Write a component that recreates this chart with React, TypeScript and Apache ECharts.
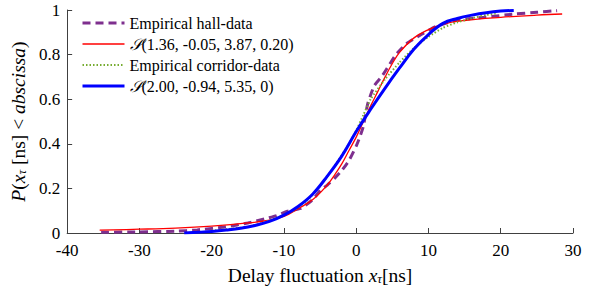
import React, { useEffect, useRef } from "react";
import * as echarts from "echarts";

// Empirical hall-data (ECDF)
const hallX = [-35.3, -30, -25, -22, -18, -15, -12.7, -11, -9.5, -7.7, -6, -5, -4, -3, -2, -1, 0, 0.5, 1, 1.6, 2.5, 3.5, 4.5, 5.5, 7, 9, 11, 14, 17.8, 22, 25, 27.8];
const hallY = [0.003, 0.005, 0.008, 0.014, 0.028, 0.045, 0.063, 0.078, 0.098, 0.11, 0.15, 0.19, 0.215, 0.245, 0.28, 0.325, 0.39, 0.43, 0.48, 0.58, 0.66, 0.7, 0.75, 0.8, 0.85, 0.89, 0.925, 0.955, 0.968, 0.982, 0.99, 0.997];

// S(1.36, -0.05, 3.87, 0.20) fit
const fitHallX = [-35.5, -30, -25, -20, -15, -12, -10, -8, -6, -4, -3, -2, -1, 0, 1, 2, 3, 4, 5, 6, 8, 10, 12, 15, 20, 25, 28.5];
const fitHallY = [0.013, 0.017, 0.022, 0.031, 0.045, 0.058, 0.074, 0.11, 0.15, 0.215, 0.26, 0.31, 0.37, 0.43, 0.5, 0.57, 0.635, 0.7, 0.76, 0.81, 0.875, 0.912, 0.937, 0.953, 0.967, 0.977, 0.982];

// Empirical corridor-data (ECDF)
const corrX = [-20, -17, -15, -13, -11, -9, -7, -5, -3, -1, 0, 1, 2, 4, 6, 8, 10, 12, 14, 16, 18, 19.5];
const corrY = [0.01, 0.02, 0.028, 0.045, 0.068, 0.095, 0.14, 0.21, 0.3, 0.4, 0.46, 0.53, 0.6, 0.69, 0.765, 0.83, 0.88, 0.92, 0.945, 0.963, 0.978, 0.985];

// S(2.00, -0.94, 5.35, 0) fit
const fitCorrX = [-23.8, -22, -20, -18, -16, -14, -12, -10, -8, -6, -4, -2, 0, 2, 4, 6, 8, 10, 12, 14, 16, 18, 20, 21.8];
const fitCorrY = [0.0, 0.003, 0.007, 0.013, 0.021, 0.034, 0.052, 0.08, 0.12, 0.175, 0.255, 0.345, 0.455, 0.555, 0.65, 0.74, 0.825, 0.89, 0.94, 0.962, 0.977, 0.988, 0.995, 0.998];

const names = [
  "Empirical hall-data",
  "S(1.36, -0.05, 3.87, 0.20)",
  "Empirical corridor-data",
  "S(2.00, -0.94, 5.35, 0)",
];

const zip = (xs: number[], ys: number[]) => xs.map((x, i) => [x, ys[i]]);

const FONT = "Liberation Serif";

export default function App() {
  const ref = useRef<HTMLDivElement>(null);
  useEffect(() => {
    if (!ref.current) return;
    const chart = echarts.init(ref.current, undefined, { renderer: "svg" });
    const axisColor = "#404040";
    const nameSize = 19.5;
    const richName = {
      i: { fontFamily: FONT, fontSize: nameSize, fontStyle: "italic", color: "#000" },
      s: { fontFamily: FONT, fontSize: 13, fontStyle: "italic", color: "#000", verticalAlign: "bottom", padding: [6, 0, 0, 0] },
    };
    chart.setOption({
      animation: false,
      backgroundColor: "#ffffff",
      textStyle: { fontFamily: FONT },
      grid: { left: 61.5, right: 19, top: 10, bottom: 56, containLabel: false },
      legend: {
        orient: "vertical",
        left: 76,
        top: 10,
        itemWidth: 42,
        itemHeight: 14,
        itemGap: 5,
        itemStyle: { opacity: 0 },
        data: [
          { name: names[0], lineStyle: { width: 3 } },
          { name: names[1], lineStyle: { width: 1.3 } },
          { name: names[2], lineStyle: { width: 2 } },
          { name: names[3], lineStyle: { width: 3 } },
        ],
        formatter: (name: string) =>
          name.startsWith("S(") ? "{s|𝒮}" + name.slice(1) : name,
        textStyle: {
          fontFamily: FONT,
          fontSize: 16,
          color: "#000",
          rich: {
            s: { fontFamily: FONT, fontSize: 16, color: "#000", fontStyle: "italic" },
          },
        },
      },
      xAxis: {
        type: "value",
        min: -40,
        max: 30,
        interval: 10,
        name: "Delay fluctuation {i|x}{s|τ}[ns]",
        nameLocation: "middle",
        nameGap: 32,
        nameTextStyle: {
          fontFamily: FONT,
          fontSize: nameSize,
          color: "#000",
          rich: richName,
        },
        axisLine: { show: true, onZero: false, lineStyle: { color: axisColor, width: 1 } },
        axisTick: { show: true, inside: true, length: 5, lineStyle: { color: axisColor } },
        axisLabel: { fontFamily: FONT, fontSize: 17, lineHeight: 17, color: "#000", margin: 9 },
        splitLine: { show: false },
      },
      yAxis: {
        type: "value",
        min: 0,
        max: 1,
        interval: 0.2,
        name: "{i|P}({i|x}{s|τ} [ns] < {i|abscissa})",
        nameLocation: "middle",
        nameRotate: 90,
        nameGap: 32,
        nameTextStyle: {
          fontFamily: FONT,
          fontSize: nameSize,
          color: "#000",
          rich: richName,
        },
        axisLine: { show: true, onZero: false, lineStyle: { color: axisColor, width: 1 } },
        axisTick: { show: true, inside: true, length: 5, lineStyle: { color: axisColor } },
        axisLabel: {
          fontFamily: FONT,
          fontSize: 17,
          lineHeight: 15,
          color: "#000",
          margin: 7,
          formatter: (v: number) => String(Math.round(v * 10) / 10),
        },
        splitLine: { show: false },
      },
      series: [
        {
          name: names[0],
          type: "line",
          data: zip(hallX, hallY),
          symbol: "none",
          smooth: 0.2,
          lineStyle: { color: "#7E2F8E", width: 3, type: [8, 5] },
          itemStyle: { color: "#7E2F8E" },
          z: 2,
        },
        {
          name: names[1],
          type: "line",
          data: zip(fitHallX, fitHallY),
          symbol: "none",
          smooth: 0.4,
          lineStyle: { color: "#FF0000", width: 1.3 },
          itemStyle: { color: "#FF0000" },
          z: 3,
        },
        {
          name: names[2],
          type: "line",
          data: zip(corrX, corrY),
          symbol: "none",
          smooth: 0.2,
          lineStyle: { color: "#77AC30", width: 2, type: [1.5, 2] },
          itemStyle: { color: "#77AC30" },
          z: 4,
        },
        {
          name: names[3],
          type: "line",
          data: zip(fitCorrX, fitCorrY),
          symbol: "none",
          smooth: 0.4,
          lineStyle: { color: "#0000FF", width: 3 },
          itemStyle: { color: "#0000FF" },
          z: 5,
        },
      ],
    });
    return () => chart.dispose();
  }, []);
  return (
    <div
      ref={ref}
      style={{ position: "fixed", left: 0, top: 0, width: 592, height: 290 }}
    />
  );
}
